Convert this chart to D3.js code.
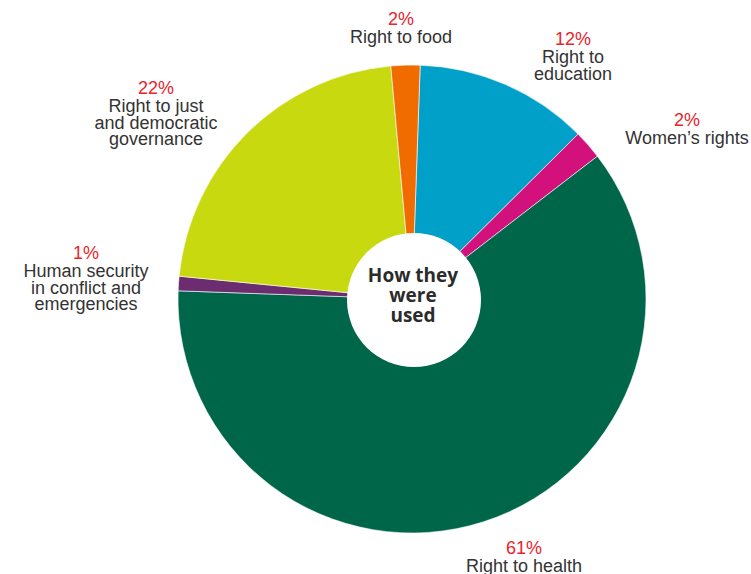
<!DOCTYPE html>
<html>
<head>
<meta charset="utf-8">
<script src="https://cdn.jsdelivr.net/npm/d3@7"></script>
<style>
  body { margin: 0; background: #fff; }
  text { font-family: "Liberation Sans", Arial, sans-serif; }
</style>
</head>
<body>
<div class="chart"></div>
<script>
// shares of funds by area, clockwise from the top
var categories = ["Right to education", "Women's rights", "Right to health",
  "Human security in conflict and emergencies",
  "Right to just and democratic governance", "Right to food"];
var shares = [12, 2, 61, 1, 22, 2];
var colours = ["#00a0c8", "#d2117c", "#00664a", "#6b2d6f", "#c8d90f", "#f06b00"];

// label lines and where they sit
var labelLines = [
  ["Right to", "education"],
  ["Women\u2019s rights"],
  ["Right to health"],
  ["Human security", "in conflict and", "emergencies"],
  ["Right to just", "and democratic", "governance"],
  ["Right to food"]
];
var labelPos = [[573, 45], [687, 126], [524, 554], [86, 259], [156, 94], [401, 25]];

var width = 751, height = 574;
var cx = 412, cy = 299, radius = 234, hole = 67;
var offset = Math.PI / 180 * 2; // first slice starts just past 12 o'clock

var svg = d3.select(".chart").append("svg")
  .attr("width", width)
  .attr("height", height);

var pie = d3.pie()
  .sort(null)
  .startAngle(offset)
  .endAngle(Math.PI * 2 + offset);

var arc = d3.arc()
  .innerRadius(0)
  .outerRadius(radius);

var g = svg.append("g")
  .attr("transform", "translate(" + cx + "," + cy + ")");

g.selectAll("path")
  .data(pie(shares))
  .enter()
  .append("path")
  .attr("d", arc)
  .attr("fill", function(d, i) { return colours[i]; })
  .attr("stroke", "#fff")
  .attr("stroke-width", 0.6);

// white hole in the middle
g.append("circle")
  .attr("cx", 2)
  .attr("cy", 1)
  .attr("r", hole)
  .attr("fill", "#fff");

var centre = g.append("text")
  .attr("text-anchor", "middle")
  .style("font-family", "'Open Sans', sans-serif")
  .style("font-weight", "bold")
  .style("font-size", "19px")
  .attr("fill", "#2b2b2b");

["How they", "were", "used"].forEach(function(t, i) {
  centre.append("tspan")
    .attr("x", 1)
    .attr("y", -17 + i * 20)
    .text(t);
});

// labels
var labels = svg.selectAll(".lab")
  .data(categories)
  .enter()
  .append("text")
  .attr("class", "lab")
  .attr("text-anchor", "middle")
  .style("font-size", "18px");

labels.each(function(d, i) {
  var t = d3.select(this);
  var x = labelPos[i][0], y = labelPos[i][1];
  t.append("tspan")
    .attr("x", x)
    .attr("y", y)
    .attr("fill", "#e8242c")
    .text(shares[i] + "%");
  labelLines[i].forEach(function(line, j) {
    t.append("tspan")
      .attr("x", x)
      .attr("y", y + 18 + j * 16.5)
      .attr("fill", "#333")
      .text(line);
  });
});
</script>
</body>
</html>
